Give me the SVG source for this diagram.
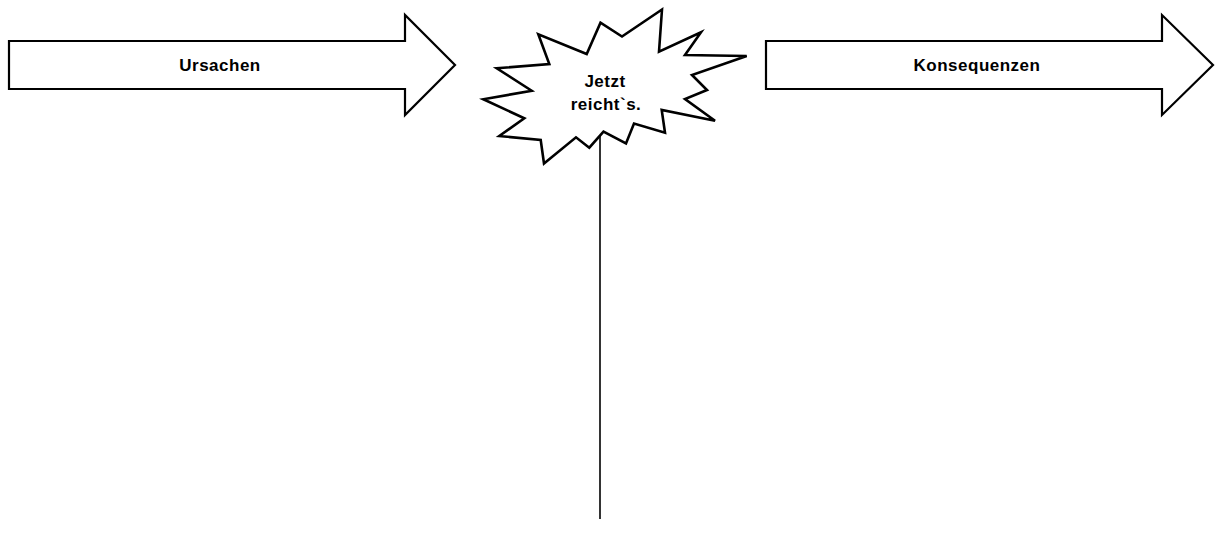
<svg xmlns="http://www.w3.org/2000/svg" width="1215" height="544" viewBox="0 0 1215 544">
<style>
.shape{fill:#ffffff;stroke:#000000;stroke-width:2.2;stroke-linejoin:miter}
.burst{fill:#ffffff;stroke:#000000;stroke-width:2.6;stroke-linejoin:miter}
.lbl{font-family:"Liberation Sans",Arial,sans-serif;font-weight:bold;font-size:17px;fill:#000000;text-anchor:middle;letter-spacing:0.5px}
.conn{stroke:#000000;stroke-width:1.6;fill:none}
</style>
<rect width="1215" height="544" fill="#ffffff"/>
<g id="connectors">
<line class="conn" x1="600" y1="132" x2="600" y2="519"/>
</g>
<g id="ursachen">
<polygon class="shape" points="9,41 405,41 405,15 455,65 405,115 405,89 9,89"/>
<text class="lbl" x="220" y="71">Ursachen</text>
</g>
<g id="jetzt">
<polygon class="burst" points="662,9.5 659,51.7 701,32.3 685,55 746.7,56 692,75 707,90 685,99 715,120.7 661.7,110 665,132.7 634,123.5 626,143.5 603.5,131.7 589.3,147.7 576,137.3 544,163.5 540.7,140 499.3,136 524.3,118.3 483.3,99.3 531.7,90.7 496.7,68.3 549.3,64 538.3,34.3 586.7,54 600.5,22.7 622,36.5"/>
<text class="lbl" x="605" y="87">Jetzt</text>
<text class="lbl" x="606" y="110">reicht`s.</text>
</g>
<g id="konsequenzen">
<polygon class="shape" points="766,41 1162,41 1162,15 1213,65 1162,115 1162,89 766,89"/>
<text class="lbl" x="977" y="71">Konsequenzen</text>
</g>
</svg>
